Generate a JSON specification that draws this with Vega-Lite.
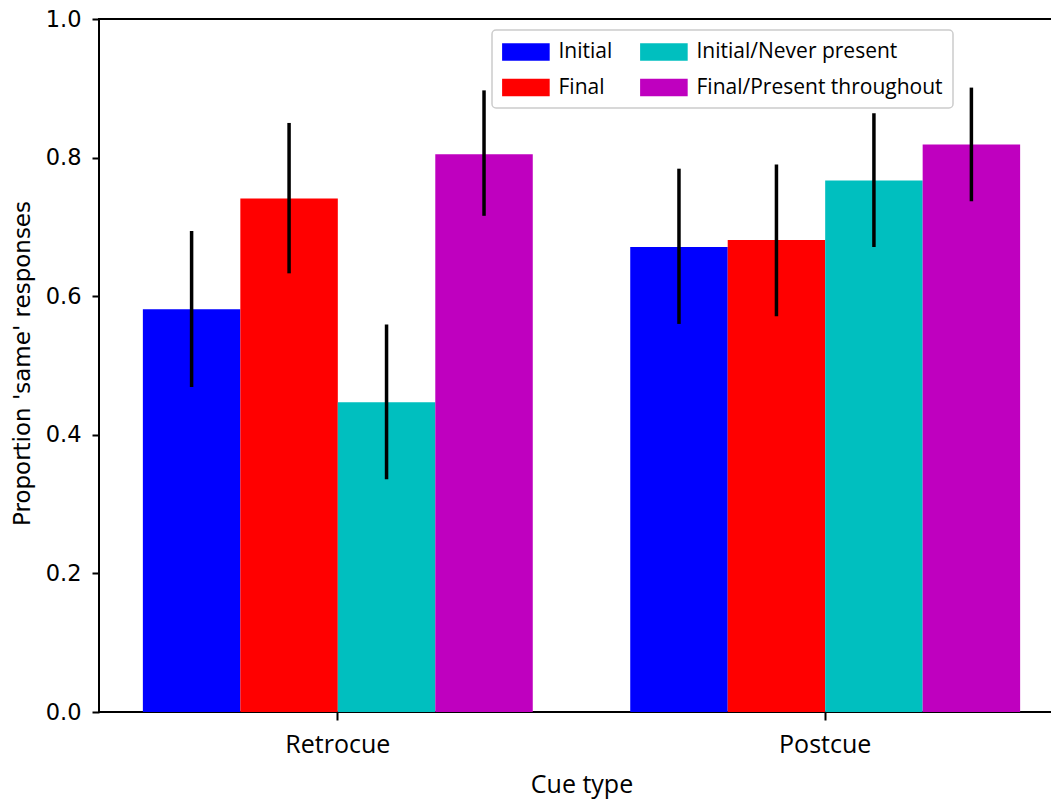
{
  "$schema": "https://vega.github.io/schema/vega-lite/v6.json",
  "width": 965,
  "height": 693,
  "autosize": {"type": "none"},
  "padding": {"left": 99, "top": 19, "right": -13, "bottom": 88},
  "background": "white",
  "config": {
    "view": {"stroke": "black", "strokeWidth": 2},
    "axis": {"grid": false, "domain": false, "tickColor": "black", "tickWidth": 2, "labelColor": "black", "titleColor": "black", "titleFontWeight": "normal"}
  },
  "data": {
    "values": [
      {"cue": "Retrocue", "cond": "Initial", "mean": 0.581, "lo": 0.469, "hi": 0.694},
      {"cue": "Retrocue", "cond": "Final", "mean": 0.741, "lo": 0.633, "hi": 0.850},
      {"cue": "Retrocue", "cond": "Initial/Never present", "mean": 0.447, "lo": 0.336, "hi": 0.559},
      {"cue": "Retrocue", "cond": "Final/Present throughout", "mean": 0.805, "lo": 0.716, "hi": 0.897},
      {"cue": "Postcue", "cond": "Initial", "mean": 0.671, "lo": 0.560, "hi": 0.784},
      {"cue": "Postcue", "cond": "Final", "mean": 0.681, "lo": 0.571, "hi": 0.790},
      {"cue": "Postcue", "cond": "Initial/Never present", "mean": 0.767, "lo": 0.671, "hi": 0.864},
      {"cue": "Postcue", "cond": "Final/Present throughout", "mean": 0.819, "lo": 0.737, "hi": 0.901}
    ]
  },
  "encoding": {
    "x": {
      "field": "cue", "type": "nominal", "sort": ["Retrocue", "Postcue"],
      "scale": {"paddingInner": 0.2, "paddingOuter": 0.09},
      "title": "Cue type",
      "axis": {"labelAngle": 0, "labelFont": "Open Sans", "labelFontSize": 25, "tickSize": 8, "labelPadding": 12,
               "titleFont": "Open Sans", "titleFontSize": 25, "titleBaseline": "alphabetic", "titleY": 80}
    },
    "xOffset": {
      "field": "cond", "type": "nominal",
      "scale": {"domain": ["Initial", "Final", "Initial/Never present", "Final/Present throughout"], "paddingInner": 0, "paddingOuter": 0}
    }
  },
  "layer": [
    {
      "mark": {"type": "bar"},
      "encoding": {
        "y": {"field": "mean", "type": "quantitative",
              "scale": {"domain": [0, 1], "nice": false},
              "title": "Proportion 'same' responses",
              "axis": {"values": [0, 0.2, 0.4, 0.6, 0.8, 1.0], "format": ".1f", "labelFont": "DejaVu Sans", "labelFontSize": 22.5,
                       "tickSize": 7, "labelPadding": 11, "titleFont": "DejaVu Sans", "titleFontSize": 23,
                       "titleX": -70, "titleY": 344, "titleBaseline": "alphabetic"}},
        "color": {
          "field": "cond", "type": "nominal",
          "scale": {"domain": ["Initial", "Final", "Initial/Never present", "Final/Present throughout"],
                    "range": ["#0000ff", "#ff0000", "#00bfbf", "#bf00bf"]},
          "legend": {
            "title": null, "orient": "none", "legendX": 393, "legendY": 11, "columns": 2,
            "symbolType": "M-1,-0.727H3V0.727H-1Z", "symbolSize": 566, "symbolStrokeWidth": 0, "symbolOpacity": 1,
            "labelFont": "Open Sans", "labelFontSize": 21, "labelColor": "black", "labelOffset": 32.5, "labelLimit": 500,
            "columnPadding": 27, "rowPadding": 13.5, "padding": 10,
            "fillColor": "white", "strokeColor": "#cccccc", "cornerRadius": 4,
            "encode": {"legend": {"update": {"strokeWidth": {"value": 1.5}}}}
          }
        }
      }
    },
    {
      "mark": {"type": "rule", "color": "black", "strokeWidth": 3.5},
      "encoding": {
        "y": {"field": "lo", "type": "quantitative"},
        "y2": {"field": "hi"}
      }
    }
  ]
}
